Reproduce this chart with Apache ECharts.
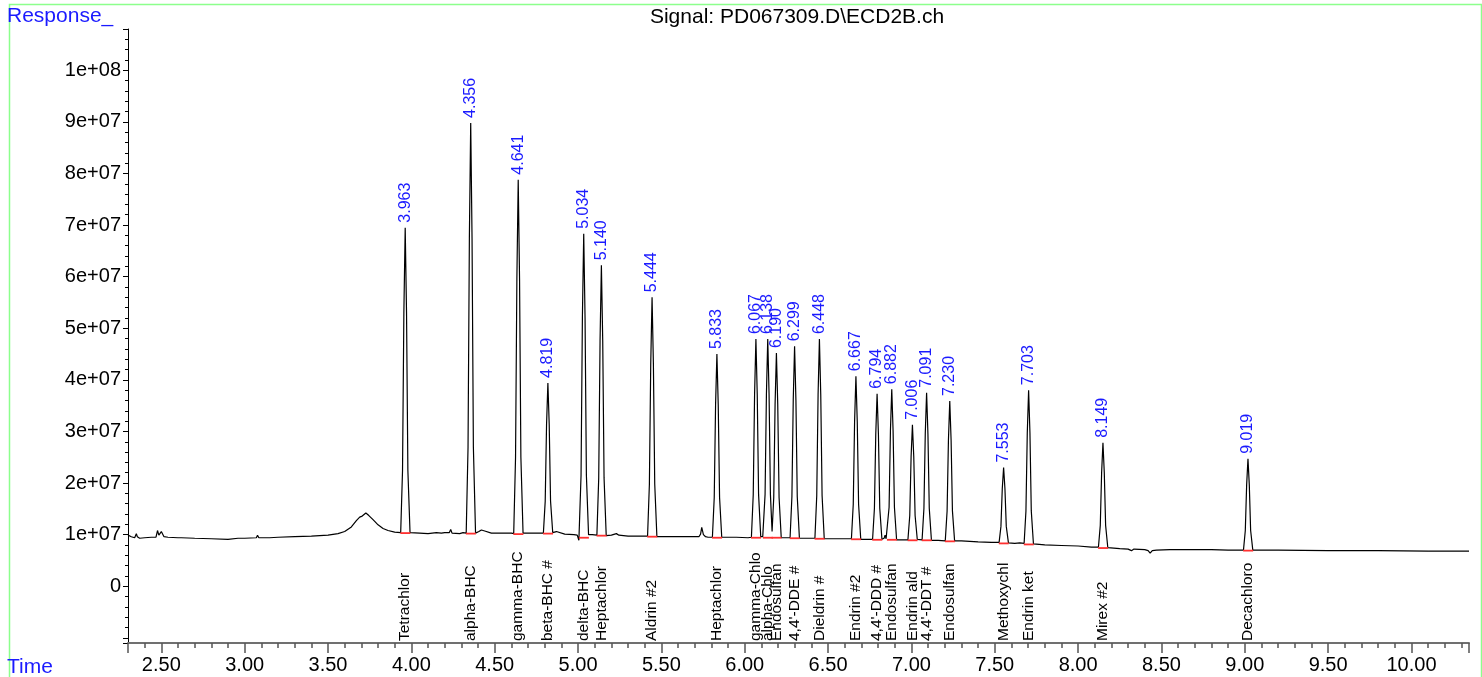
<!DOCTYPE html>
<html><head><meta charset="utf-8">
<script src="https://cdn.jsdelivr.net/npm/echarts@6/dist/echarts.min.js"></script>
<style>html,body{margin:0;padding:0;background:#fff}#c{width:1482px;height:677px}</style>
</head><body><div id="c"></div>
<script>
const FONT = '"Liberation Sans", Arial, sans-serif';
const peakTimes = [3.963,4.356,4.641,4.819,5.034,5.140,5.444,5.833,6.067,6.138,6.190,6.299,6.448,6.667,6.794,6.882,7.006,7.091,7.230,7.553,7.703,8.149,9.019];
const peakHeights = [69.5e6,89.8e6,78.8e6,39.4e6,68.3e6,62.2e6,56.0e6,45.0e6,47.9e6,47.9e6,45.2e6,46.5e6,47.9e6,40.7e6,37.3e6,38.2e6,31.3e6,37.5e6,35.9e6,23.0e6,38.0e6,27.8e6,24.7e6];
const peakBases = [10.4e6,10.3e6,10.2e6,10.3e6,9.5e6,9.9e6,9.7e6,9.5e6,9.5e6,9.5e6,9.5e6,9.4e6,9.3e6,9.2e6,9.1e6,9.1e6,9.0e6,9.0e6,8.8e6,8.4e6,8.2e6,7.5e6,7.0e6];
const peakNames = ["Tetrachlor","alpha-BHC","gamma-BHC","beta-BHC #","delta-BHC","Heptachlor","Aldrin #2","Heptachlor","gamma-Chlo","alpha-Chlo","Endosulfan","4,4'-DDE #","Dieldrin #","Endrin #2","4,4'-DDD #","Endosulfan","Endrin ald","4,4'-DDT #","Endosulfan","Methoxychl","Endrin ket","Mirex #2","Decachloro"];
const trace = [
[2.300,9.9e6],[2.320,9.6e6],[2.340,9.4e6],[2.350,10.2e6],[2.356,9.6e6],[2.370,9.3e6],[2.400,9.4e6],[2.440,9.5e6],[2.468,9.5e6],[2.477,10.8e6],[2.485,9.9e6],[2.492,10.0e6],[2.500,10.6e6],[2.508,10.5e6],[2.516,9.6e6],[2.540,9.5e6],[2.600,9.4e6],[2.610,9.7e6],[2.620,9.4e6],[2.700,9.3e6],[2.800,9.2e6],[2.900,9.1e6],[2.960,9.3e6],[3.000,9.3e6],[3.070,9.4e6],[3.077,9.9e6],[3.085,9.4e6],[3.150,9.4e6],[3.200,9.5e6],[3.300,9.6e6],[3.400,9.7e6],[3.500,9.9e6],[3.560,10.2e6],[3.600,10.6e6],[3.640,11.5e6],[3.670,12.7e6],[3.690,13.4e6],[3.705,13.6e6],[3.715,13.9e6],[3.727,14.2e6],[3.745,13.7e6],[3.770,12.9e6],[3.800,11.9e6],[3.830,11.2e6],[3.860,10.8e6],[3.900,10.5e6],
[3.936,10.4e6],[3.947,22.5e6],[3.955,53.0e6],[3.963,69.5e6],[3.971,53.0e6],[3.979,22.5e6],[3.992,10.4e6],
[4.050,10.3e6],[4.100,10.2e6],[4.150,10.4e6],[4.180,10.3e6],[4.200,10.4e6],[4.228,10.4e6],[4.236,11.0e6],[4.244,10.3e6],[4.290,10.2e6],[4.310,10.4e6],
[4.329,10.3e6],[4.340,27.0e6],[4.348,67.5e6],[4.356,89.8e6],[4.364,67.5e6],[4.372,27.0e6],[4.385,10.3e6],
[4.405,10.6e6],[4.420,10.9e6],[4.440,10.7e6],[4.480,10.3e6],[4.550,10.3e6],[4.600,10.3e6],
[4.614,10.2e6],[4.625,25.0e6],[4.633,59.6e6],[4.641,78.8e6],[4.649,59.6e6],[4.657,25.0e6],[4.670,10.3e6],
[4.720,10.3e6],[4.770,10.3e6],
[4.792,10.3e6],[4.803,16.5e6],[4.811,31.3e6],[4.819,39.4e6],[4.827,31.3e6],[4.835,16.5e6],[4.848,10.4e6],
[4.870,10.6e6],[4.880,10.3e6],[4.920,10.1e6],[4.975,10.0e6],[4.995,9.9e6],
[5.005,8.9e6],[5.018,21.5e6],[5.026,52.0e6],[5.034,68.3e6],[5.042,52.0e6],[5.050,21.5e6],[5.063,10.0e6],
[5.085,10.0e6],
[5.113,9.9e6],[5.124,21.0e6],[5.132,47.6e6],[5.140,62.2e6],[5.148,47.6e6],[5.156,21.0e6],[5.169,9.8e6],
[5.200,9.9e6],[5.230,10.2e6],[5.245,9.9e6],[5.300,9.7e6],[5.380,9.7e6],
[5.417,9.7e6],[5.428,19.8e6],[5.436,43.0e6],[5.444,56.0e6],[5.452,43.0e6],[5.460,19.8e6],[5.473,9.6e6],
[5.550,9.6e6],[5.650,9.6e6],[5.725,9.6e6],[5.735,10.1e6],[5.742,11.4e6],[5.752,10.0e6],[5.765,9.6e6],[5.780,9.5e6],
[5.806,9.5e6],[5.817,17.2e6],[5.825,35.1e6],[5.833,45.0e6],[5.841,35.1e6],[5.849,17.2e6],[5.862,9.5e6],
[5.950,9.5e6],[6.020,9.4e6],
[6.040,9.5e6],[6.051,17.8e6],[6.059,37.1e6],[6.067,47.9e6],[6.075,37.1e6],[6.083,17.8e6],[6.096,9.6e6],
[6.108,9.6e6],[6.122,17.8e6],[6.130,37.1e6],[6.138,47.9e6],[6.146,37.1e6],[6.154,17.8e6],[6.164,10.6e6],
[6.174,17.2e6],[6.182,35.2e6],[6.190,45.2e6],[6.198,35.2e6],[6.206,17.2e6],[6.219,9.4e6],
[6.250,9.4e6],
[6.272,9.4e6],[6.283,17.4e6],[6.291,36.1e6],[6.299,46.5e6],[6.307,36.1e6],[6.315,17.4e6],[6.328,9.3e6],
[6.380,9.3e6],
[6.421,9.3e6],[6.432,17.6e6],[6.440,37.1e6],[6.448,47.9e6],[6.456,37.1e6],[6.464,17.6e6],[6.477,9.2e6],
[6.560,9.2e6],[6.620,9.2e6],
[6.640,9.2e6],[6.651,15.9e6],[6.659,31.9e6],[6.667,40.7e6],[6.675,31.9e6],[6.683,15.9e6],[6.696,9.1e6],
[6.730,9.1e6],
[6.767,9.1e6],[6.778,15.1e6],[6.786,29.4e6],[6.794,37.3e6],[6.802,29.4e6],[6.810,15.1e6],[6.823,9.1e6],
[6.836,9.3e6],[6.842,9.9e6],[6.848,9.2e6],
[6.857,9.1e6],[6.866,15.3e6],[6.874,30.1e6],[6.882,38.2e6],[6.890,30.1e6],[6.898,15.3e6],[6.911,9.0e6],
[6.945,9.0e6],
[6.979,9.0e6],[6.990,13.7e6],[6.998,25.1e6],[7.006,31.3e6],[7.014,25.1e6],[7.022,13.7e6],[7.035,9.1e6],
[7.064,9.0e6],[7.075,15.1e6],[7.083,29.5e6],[7.091,37.5e6],[7.099,29.5e6],[7.107,15.1e6],[7.120,8.9e6],
[7.160,8.9e6],
[7.203,8.8e6],[7.214,14.6e6],[7.222,28.3e6],[7.230,35.9e6],[7.238,28.3e6],[7.246,14.6e6],[7.259,8.8e6],
[7.300,8.8e6],[7.400,8.6e6],[7.480,8.5e6],
[7.526,8.5e6],[7.537,11.6e6],[7.545,18.9e6],[7.553,23.0e6],[7.561,18.9e6],[7.569,11.6e6],[7.582,8.4e6],
[7.620,8.3e6],[7.650,8.4e6],
[7.676,8.3e6],[7.687,14.6e6],[7.695,29.7e6],[7.703,38.0e6],[7.711,29.7e6],[7.719,14.6e6],[7.732,8.2e6],
[7.800,8.0e6],[7.900,7.9e6],[8.000,7.8e6],[8.080,7.6e6],
[8.122,7.6e6],[8.133,11.8e6],[8.141,22.0e6],[8.149,27.8e6],[8.157,22.0e6],[8.165,11.8e6],[8.178,7.5e6],
[8.250,7.3e6],[8.300,7.2e6],[8.320,6.9e6],[8.335,7.2e6],[8.400,7.1e6],[8.420,6.9e6],[8.432,6.4e6],[8.445,6.9e6],[8.470,7.0e6],[8.550,7.1e6],[8.650,7.1e6],[8.800,7.1e6],[8.900,7.0e6],
[8.992,7.0e6],[9.003,10.8e6],[9.011,19.6e6],[9.019,24.7e6],[9.027,19.6e6],[9.035,10.8e6],[9.048,7.0e6],
[9.200,7.0e6],[9.500,6.9e6],[9.800,6.9e6],[10.100,6.8e6],[10.345,6.8e6]
];

const chart = echarts.init(document.getElementById('c'), null, {renderer:'canvas'});
const peakTop = peakTimes.map((t,i)=>[t, peakHeights[i]]);
const peakBase = peakTimes.map((t,i)=>[t, peakBases[i]]);
const BLUE = '#1a1aff';

function yFmt(v){
  if (Math.abs(v) < 1) return '0';
  if (v < 0) return '';
  const k = v/1e7;
  if (Math.abs(k - Math.round(k)) > 1e-6) return '';
  const e = Math.floor(Math.log10(v) + 1e-9);
  const m = Math.round(v/Math.pow(10,e)*1000)/1000;
  return m + 'e+' + String(e).padStart(2,'0');
}
function xFmt(v){
  const k = v*2;
  if (Math.abs(k - Math.round(k)) > 1e-6) return '';
  return v.toFixed(2);
}

chart.setOption({
  animation:false,
  backgroundColor:'#fff',
  grid:{left:128,right:13,top:29,bottom:34,containLabel:false},
  xAxis:{
    type:'value',min:2.30,max:10.345,minInterval:0.5,maxInterval:0.5,splitNumber:16,
    axisLine:{show:true,onZero:false,lineStyle:{color:'#707070',width:2}},
    axisTick:{show:true,length:10,lineStyle:{color:'#555',width:1.5}},
    minorTick:{show:true,splitNumber:5,length:5,lineStyle:{color:'#555',width:1.5}},
    axisLabel:{color:'#000',fontSize:20,fontFamily:FONT,margin:12,formatter:xFmt,hideOverlap:false},
    splitLine:{show:false}
  },
  yAxis:{
    type:'value',min:-1.1e7,max:1.08e8,minInterval:1e7,maxInterval:1e7,splitNumber:12,
    axisLine:{show:true,onZero:false,lineStyle:{color:'#000',width:1}},
    axisTick:{show:true,length:5,lineStyle:{color:'#000'}},
    minorTick:{show:true,splitNumber:5,length:3,lineStyle:{color:'#000'}},
    axisLabel:{color:'#000',fontSize:20,fontFamily:FONT,margin:7,formatter:yFmt,hideOverlap:false},
    splitLine:{show:false}
  },
  graphic:[
    {type:'rect',left:7,top:2,shape:{width:1472,height:700},style:{fill:'none',stroke:'#8cff8c',lineWidth:1.5},silent:true,z:0},
    {type:'text',x:7,y:6,style:{text:'Response_',fill:BLUE,font:'21px '+FONT,textVerticalAlign:'top'},z:10},
    {type:'text',x:797,y:7,style:{text:'Signal: PD067309.D\\ECD2B.ch',fill:'#000',font:'21px '+FONT,textAlign:'center',textVerticalAlign:'top'},z:10},
    {type:'text',x:7,y:657,style:{text:'Time',fill:BLUE,font:'21px '+FONT,textVerticalAlign:'top'},z:10}
  ],
  series:[
    {type:'line',data:trace,showSymbol:false,symbol:'none',smooth:false,
     lineStyle:{color:'#000',width:1.2},z:3,silent:true},
    {type:'custom',data:peakBase,encode:{x:0,y:1},z:4,silent:true,
     renderItem:(params,api)=>{
       const a = api.coord([api.value(0)-0.029, api.value(1)]);
       const b = api.coord([api.value(0)+0.031, api.value(1)]);
       return {type:'line',shape:{x1:a[0],y1:a[1]+0.5,x2:b[0],y2:b[1]+0.5},style:{stroke:'#ff3030',lineWidth:1.8}};
     }},
    {type:'custom',data:peakTop,encode:{x:0,y:1},z:5,silent:true,
     renderItem:(params,api)=>{
       const p = api.coord([api.value(0), api.value(1)]);
       return {type:'text',x:p[0],y:p[1]-5,rotation:Math.PI/2,
         style:{text:peakTimes[params.dataIndex].toFixed(3),fill:BLUE,font:'16px '+FONT,textAlign:'left',textVerticalAlign:'middle'}};
     }},
    {type:'custom',data:peakBase,encode:{x:0,y:1},z:5,silent:true,
     renderItem:(params,api)=>{
       const p = api.coord([api.value(0), -1.1e7]);
       return {type:'text',x:p[0],y:p[1]-2,rotation:Math.PI/2,
         style:{text:peakNames[params.dataIndex],fill:'#000',font:'15.5px '+FONT,textAlign:'left',textVerticalAlign:'middle'}};
     }}
  ]
});
</script></body></html>
